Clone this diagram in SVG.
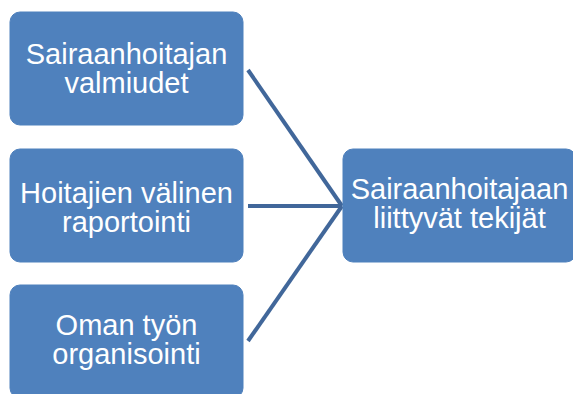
<svg xmlns="http://www.w3.org/2000/svg" width="573" height="394" viewBox="0 0 573 394">
  <style>
    .box { fill: #4F81BD; stroke: #4F81BD; stroke-width: 1; }
    .label { fill: #FFFFFF; font-family: "Liberation Sans", Arial, sans-serif; font-size: 29px; text-anchor: middle; }
    .link { stroke: #41679A; stroke-width: 4; fill: none; }
  </style>
  <rect width="573" height="394" fill="#FFFFFF"/>
  <g id="connectors">
    <line class="link" x1="248" y1="70" x2="342" y2="206"/>
    <line class="link" x1="248" y1="206" x2="342" y2="206"/>
    <line class="link" x1="248" y1="341" x2="342" y2="206"/>
  </g>
  <g id="node-valmiudet">
    <rect class="box" x="10" y="12" width="233" height="113" rx="10"/>
    <text class="label" x="126.5" y="64">Sairaanhoitajan</text>
    <text class="label" x="126.5" y="93">valmiudet</text>
  </g>
  <g id="node-raportointi">
    <rect class="box" x="10" y="149" width="233" height="113" rx="10"/>
    <text class="label" x="126.5" y="203">Hoitajien välinen</text>
    <text class="label" x="126.5" y="232">raportointi</text>
  </g>
  <g id="node-organisointi">
    <rect class="box" x="10" y="285" width="233" height="113" rx="10"/>
    <text class="label" x="126.5" y="335">Oman työn</text>
    <text class="label" x="126.5" y="364">organisointi</text>
  </g>
  <g id="node-tekijat">
    <rect class="box" x="343" y="149" width="233" height="113" rx="10"/>
    <text class="label" x="459.5" y="199">Sairaanhoitajaan</text>
    <text class="label" x="459.5" y="228">liittyvät tekijät</text>
  </g>
</svg>
